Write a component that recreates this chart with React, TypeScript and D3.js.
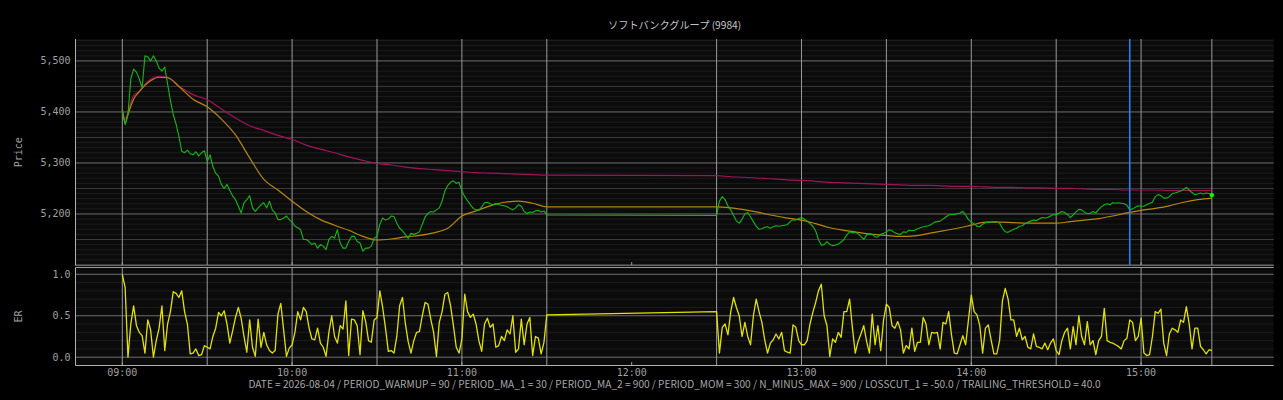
import React from 'react';
import * as d3 from 'd3';

// ---- data (minutes are counted from 09:00) ----
const title = 'ソフトバンクグループ (9984)';
const footer =
  'DATE = 2026-08-04 / PERIOD_WARMUP = 90 / PERIOD_MA_1 = 30 / PERIOD_MA_2 = 900 / PERIOD_MOM = 300 / N_MINUS_MAX = 900 / LOSSCUT_1 = -50.0 / TRAILING_THRESHOLD = 40.0';

const amStart = '09:00';
const pmStart = '12:30';
const markerTime = '14:56';
const hourTicks = ['09:00', '10:00', '11:00', '12:00', '13:00', '14:00', '15:00'];
const sessionLines = [
  '09:00', '09:30', '10:00', '10:30', '11:00', '11:30',
  '12:30', '13:00', '13:30', '14:00', '14:30', '15:00', '15:25',
];
const priceTicks = [5200, 5300, 5400, 5500];
const erTicks = [0, 0.5, 1.0];

// price, one value per minute, 09:00 - 11:30
const priceAM = [
  5405, 5375, 5395, 5465, 5484, 5478, 5465, 5447, 5510, 5508,
  5500, 5510, 5500, 5486, 5480, 5488, 5455, 5422, 5395, 5376,
  5352, 5323, 5320, 5325, 5318, 5316, 5322, 5314, 5320, 5324,
  5303, 5316, 5293, 5280, 5274, 5258, 5250, 5258, 5246, 5235,
  5228, 5215, 5202, 5222, 5228, 5236, 5212, 5205, 5212, 5218,
  5222, 5212, 5225, 5208, 5202, 5189, 5189, 5192, 5196, 5189,
  5184, 5176, 5173, 5169, 5150, 5150, 5146, 5140, 5143, 5133,
  5140, 5137, 5130, 5150, 5156, 5153, 5169, 5143, 5133, 5133,
  5146, 5156, 5156, 5146, 5143, 5127, 5133, 5133, 5137, 5153,
  5156, 5180, 5192, 5188, 5190, 5196, 5195, 5182, 5172, 5167,
  5160, 5152, 5162, 5160, 5162, 5165, 5180, 5194, 5201, 5205,
  5204, 5208, 5212, 5225, 5245, 5256, 5262, 5265, 5260, 5262,
  5245, 5234, 5226, 5218, 5211, 5208, 5207, 5214, 5222, 5223,
  5220, 5218, 5221, 5218, 5217, 5216, 5214, 5211, 5208, 5212,
  5218, 5215, 5205, 5201, 5204, 5203, 5206, 5207, 5204, 5206,
  5198,
];

// price, one value per minute, 12:30 - 15:25
const pricePM = [
  5197, 5225, 5234, 5228, 5216, 5208, 5197, 5186, 5182, 5190,
  5200, 5203, 5194, 5185, 5176, 5170, 5171, 5174, 5175, 5172,
  5175, 5177, 5176, 5177, 5178, 5179, 5185, 5189, 5188, 5191,
  5193, 5190, 5186, 5181, 5176, 5167, 5150, 5139, 5140, 5146,
  5140, 5138, 5139, 5141, 5145, 5150, 5159, 5165, 5163, 5164,
  5161, 5156, 5150, 5159, 5161, 5160, 5155, 5155, 5160, 5162,
  5165, 5169, 5167, 5163, 5161, 5160, 5165, 5164, 5168, 5167,
  5168, 5171, 5173, 5175, 5176, 5177, 5180, 5184, 5185, 5186,
  5190, 5194, 5198, 5199, 5199, 5201, 5202, 5205, 5198, 5189,
  5184, 5181, 5176, 5175, 5180, 5183, 5184, 5184, 5185, 5185,
  5182, 5172, 5165, 5164, 5167, 5170, 5172, 5176, 5177, 5181,
  5184, 5186, 5188, 5187, 5190, 5193, 5192, 5193, 5196, 5199,
  5198, 5202, 5205, 5203, 5199, 5193, 5198, 5204, 5209, 5208,
  5203, 5201, 5201, 5205, 5202, 5209, 5214, 5218, 5220, 5218,
  5222, 5221, 5222, 5221, 5220, 5217, 5208, 5210, 5213, 5216,
  5215, 5215, 5218, 5221, 5223, 5234, 5238, 5236, 5231, 5231,
  5234, 5240, 5241, 5243, 5245, 5248, 5252, 5247, 5242, 5238,
  5239, 5241, 5239, 5241, 5240, 5237,
];

// moving averages, sampled at these minutes
const maMinutes = [
  0, 1, 2, 4, 6, 8, 10, 13, 16, 20, 25, 30, 35, 40, 45, 50, 55, 60, 65, 70,
  75, 80, 85, 90, 95, 100, 105, 110, 115, 120, 125, 130, 135, 140, 145, 150,
  210, 215, 220, 225, 230, 235, 240, 245, 250, 255, 260, 265, 270, 275, 280,
  285, 290, 295, 300, 305, 310, 315, 320, 325, 330, 335, 340, 345, 350, 355,
  360, 365, 370, 375, 380, 385,
];
const ma1 = [
  5405, 5378, 5395, 5425, 5440, 5452, 5461, 5468, 5467, 5450, 5425, 5410, 5386, 5355, 5310, 5268, 5247, 5225, 5205, 5189,
  5178, 5168, 5156, 5149, 5151, 5155, 5158, 5163, 5172, 5196, 5206, 5216, 5223, 5225, 5221, 5214,
  5214, 5212, 5208, 5203, 5197, 5192, 5188, 5181, 5173, 5168, 5164, 5160, 5158, 5156, 5157,
  5162, 5167, 5172, 5178, 5184, 5184, 5183, 5182, 5182, 5182, 5185, 5188, 5191, 5196, 5202,
  5207, 5211, 5216, 5223, 5228, 5231,
];
const ma2 = [
  5405, 5385, 5400, 5432, 5440, 5454, 5464, 5470, 5468, 5451, 5434, 5424, 5406, 5388, 5373, 5364, 5354, 5346, 5335, 5327,
  5320, 5312, 5305, 5299, 5296, 5292, 5289, 5287, 5285, 5283, 5281, 5280, 5279, 5278, 5277, 5276,
  5275, 5273, 5272, 5270, 5269, 5267, 5266, 5264, 5262, 5261, 5260, 5259, 5258, 5257, 5256,
  5256, 5255, 5254, 5254, 5253, 5252, 5252, 5251, 5251, 5250, 5250, 5249, 5248, 5248, 5247,
  5247, 5247, 5246, 5246, 5246, 5246,
];

// efficiency ratio, one value per minute
const erAM = [
  1.0, 0.84, 0.0, 0.40, 0.62, 0.38, 0.30, 0.26, 0.05, 0.45,
  0.33, 0.0, 0.20, 0.35, 0.62, 0.08, 0.40, 0.55, 0.79, 0.77,
  0.72, 0.80, 0.55, 0.40, 0.04, 0.05, 0.10, 0.02, 0.03, 0.14,
  0.12, 0.10, 0.25, 0.35, 0.54, 0.50, 0.56, 0.40, 0.17, 0.32,
  0.48, 0.60, 0.47, 0.25, 0.06, 0.45, 0.12, 0.01, 0.46, 0.12,
  0.30, 0.15, 0.08, 0.05, 0.08, 0.52, 0.65, 0.33, 0.01, 0.11,
  0.15, 0.30, 0.55, 0.45, 0.60, 0.55, 0.35, 0.22, 0.21, 0.35,
  0.17, 0.12, 0.01, 0.30, 0.50, 0.25, 0.17, 0.38, 0.34, 0.68,
  0.02, 0.46, 0.45, 0.38, 0.03, 0.56, 0.43, 0.20, 0.18, 0.45,
  0.48, 0.80, 0.60, 0.35, 0.07, 0.08, 0.05, 0.25, 0.62, 0.72,
  0.41, 0.19, 0.05, 0.20, 0.30, 0.31, 0.50, 0.66, 0.64, 0.46,
  0.30, 0.01, 0.42, 0.55, 0.76, 0.78, 0.62, 0.38, 0.12, 0.05,
  0.22, 0.76, 0.55, 0.48, 0.52, 0.40, 0.20, 0.07, 0.40, 0.47,
  0.36, 0.40, 0.12, 0.14, 0.25, 0.20, 0.33, 0.28, 0.50, 0.06,
  0.10, 0.46, 0.15, 0.40, 0.48, 0.02, 0.25, 0.23, 0.04, 0.18,
  0.51,
];
const erPM = [
  0.55, 0.05, 0.36, 0.40, 0.27, 0.55, 0.72, 0.60, 0.50, 0.25,
  0.42, 0.25, 0.15, 0.50, 0.70, 0.55, 0.42, 0.21, 0.05, 0.17,
  0.21, 0.28, 0.22, 0.30, 0.08, 0.06, 0.05, 0.39, 0.36, 0.20,
  0.15, 0.15, 0.20, 0.40, 0.54, 0.66, 0.80, 0.88, 0.50, 0.38,
  0.01, 0.22, 0.18, 0.30, 0.24, 0.55, 0.55, 0.70, 0.35, 0.05,
  0.19, 0.28, 0.38, 0.19, 0.05, 0.52, 0.15, 0.38, 0.08, 0.45,
  0.64, 0.60, 0.38, 0.35, 0.43, 0.33, 0.05, 0.14, 0.10, 0.35,
  0.07, 0.18, 0.18, 0.48, 0.40, 0.15, 0.30, 0.29, 0.30, 0.10,
  0.42, 0.40, 0.55, 0.27, 0.05, 0.04, 0.15, 0.26, 0.15, 0.45,
  0.75, 0.55, 0.51, 0.38, 0.05, 0.35, 0.39, 0.21, 0.04, 0.04,
  0.20, 0.68, 0.83, 0.70, 0.45, 0.45, 0.25, 0.35, 0.21, 0.25,
  0.12, 0.10, 0.28, 0.13, 0.12, 0.10, 0.17, 0.09, 0.17, 0.22,
  0.08, 0.03, 0.20, 0.30, 0.35, 0.10, 0.37, 0.15, 0.50, 0.25,
  0.15, 0.43, 0.15, 0.20, 0.03, 0.20, 0.25, 0.59, 0.20, 0.18,
  0.17, 0.15, 0.13, 0.10, 0.20, 0.23, 0.45, 0.42, 0.20, 0.25,
  0.47, 0.05, 0.02, 0.03, 0.25, 0.55, 0.53, 0.58, 0.17, 0.02,
  0.28, 0.35, 0.33, 0.30, 0.45, 0.42, 0.61, 0.40, 0.10, 0.35,
  0.35, 0.13, 0.09, 0.04, 0.09, 0.08,
];

// ---- helpers ----
const toMin = (s: string) => {
  const [h, m] = s.split(':').map(Number);
  return (h - 9) * 60 + m;
};
type Pt = [number, number];
const withTime = (vals: number[], start: string): Pt[] =>
  vals.map((v, i) => [toMin(start) + i, v]);

const W = 1283;
const H = 400;
const left = 75.5;
const right = 1273.7;
const pTop = 39;
const pBottom = 265.5;
const eTop = 267.5;
const eBottom = 365.5;

const x = d3.scaleLinear().domain([-16.54, 406.86]).range([left, right]);
const yP = d3.scaleLinear().domain([5099, 5543]).range([pBottom, pTop]);
const yE = d3.scaleLinear().domain([-0.1, 1.1]).range([eBottom, 266]);

const monoFont = '"DejaVu Sans Mono", monospace';
const jpFont = '"Noto Sans CJK JP", "Noto Sans", sans-serif';

export default function App() {
  const pricePts = [...withTime(priceAM, amStart), ...withTime(pricePM, pmStart)];
  const erPts = [...withTime(erAM, amStart), ...withTime(erPM, pmStart)];
  const ma1Pts: Pt[] = maMinutes.map((t, i) => [t, ma1[i]]);
  const ma2Pts: Pt[] = maMinutes.map((t, i) => [t, ma2[i]]);

  const priceLine = d3.line<Pt>().x(d => x(d[0])).y(d => yP(d[1]));
  const maLine = d3.line<Pt>().x(d => x(d[0])).y(d => yP(d[1])).curve(d3.curveMonotoneX);
  const erLine = d3.line<Pt>().x(d => x(d[0])).y(d => yE(d[1]));

  const [py0, py1] = yP.domain();
  const priceGrid = d3.range(Math.ceil(py0 / 10) * 10, py1, 10);
  const erGrid = d3.range(-0.1, 1.1001, 0.1).map(v => Math.round(v * 10) / 10);
  const last = pricePts[pricePts.length - 1];
  const fmt = d3.format(',');

  const gridColor = (v: number) =>
    v % 100 === 0 ? '#6e6e6e' : v % 50 === 0 ? '#3c3c3c' : '#1c1c1c';

  return (
    <div style={{ position: 'absolute', left: 0, top: 0, width: W, height: H, background: '#000' }}>
      <svg width={W} height={H} style={{ display: 'block' }}>
        <defs>
          <clipPath id="clipP">
            <rect x={left} y={pTop} width={right - left} height={pBottom - pTop} />
          </clipPath>
          <clipPath id="clipE">
            <rect x={left} y={eTop} width={right - left} height={eBottom - eTop} />
          </clipPath>
        </defs>
        <rect width={W} height={H} fill="#000" />

        {/* price panel */}
        <rect x={left} y={pTop} width={right - left} height={pBottom - pTop} fill="#0b0b0b" />
        {priceGrid.map(v => (
          <line key={v} x1={left} x2={right} y1={yP(v)} y2={yP(v)} stroke={gridColor(v)} strokeWidth={1} />
        ))}
        {sessionLines.map(s => (
          <line key={s} x1={x(toMin(s))} x2={x(toMin(s))} y1={pTop} y2={pBottom} stroke="#9a9a9a" strokeWidth={1} />
        ))}
        {hourTicks.map(s => (
          <line key={s} x1={x(toMin(s))} x2={x(toMin(s))} y1={pBottom} y2={pBottom - 3.5} stroke="#9a9a9a" />
        ))}
        <g clipPath="url(#clipP)" fill="none" strokeLinejoin="round">
          <path d={maLine(ma2Pts) ?? ''} stroke="#a3125f" strokeWidth={1.2} />
          <path d={maLine(ma1Pts) ?? ''} stroke="#b8860b" strokeWidth={1.2} />
          <path d={priceLine(pricePts) ?? ''} stroke="#14b814" strokeWidth={1.1} />
        </g>
        <line x1={x(toMin(markerTime))} x2={x(toMin(markerTime))} y1={pTop} y2={pBottom} stroke="#1e90ff" strokeWidth={1.4} />
        <circle cx={x(last[0])} cy={yP(last[1])} r={2.2} fill="#00ff00" />
        <line x1={left} x2={left} y1={pTop} y2={pBottom} stroke="#b0b0b0" />
        <line x1={left} x2={right} y1={pBottom} y2={pBottom} stroke="#b0b0b0" />
        {priceTicks.map(v => (
          <text key={v} x={left - 5} y={yP(v)} dy="0.35em" textAnchor="end" fontFamily={monoFont} fontSize={10} fill="#a0a0a0">
            {fmt(v)}
          </text>
        ))}
        <text transform={`translate(18,${(pTop + pBottom) / 2}) rotate(-90)`} textAnchor="middle" dy="0.35em" fontFamily={monoFont} fontSize={10} fill="#a0a0a0">
          Price
        </text>

        {/* ER panel */}
        <rect x={left} y={eTop} width={right - left} height={eBottom - eTop} fill="#0b0b0b" />
        {erGrid.map(v => (
          <line key={v} x1={left} x2={right} y1={yE(v)} y2={yE(v)}
            stroke={erTicks.includes(v) ? '#6e6e6e' : '#1c1c1c'} strokeWidth={1} />
        ))}
        {sessionLines.map(s => (
          <line key={s} x1={x(toMin(s))} x2={x(toMin(s))} y1={eTop} y2={eBottom} stroke="#9a9a9a" strokeWidth={1} />
        ))}
        {hourTicks.map(s => (
          <line key={s} x1={x(toMin(s))} x2={x(toMin(s))} y1={eBottom} y2={eBottom - 3.5} stroke="#9a9a9a" />
        ))}
        <g clipPath="url(#clipE)" fill="none" strokeLinejoin="round">
          <path d={erLine(erPts) ?? ''} stroke="#e2e200" strokeWidth={1.3} />
        </g>
        <line x1={left} x2={right} y1={eTop} y2={eTop} stroke="#9a9a9a" />
        <line x1={left} x2={left} y1={eTop} y2={eBottom} stroke="#b0b0b0" />
        <line x1={left} x2={right} y1={eBottom} y2={eBottom} stroke="#b0b0b0" />
        {erTicks.map(v => (
          <text key={v} x={left - 5} y={yE(v)} dy="0.35em" textAnchor="end" fontFamily={monoFont} fontSize={10} fill="#a0a0a0">
            {v.toFixed(1)}
          </text>
        ))}
        <text transform={`translate(18,${(eTop + eBottom) / 2}) rotate(-90)`} textAnchor="middle" dy="0.35em" fontFamily={monoFont} fontSize={10} fill="#a0a0a0">
          ER
        </text>
        {hourTicks.map(s => (
          <text key={s} x={x(toMin(s))} y={372} dy="0.35em" textAnchor="middle" fontFamily={monoFont} fontSize={10} fill="#a0a0a0">
            {s}
          </text>
        ))}

        <text x={(left + right) / 2} y={25} dy="0.35em" textAnchor="middle" fontFamily={jpFont} fontSize={10.2} fill="#c4c4c4">
          {title}
        </text>
        <text x={(left + right) / 2} y={384} dy="0.35em" textAnchor="middle" fontFamily={jpFont} fontSize={10.1} fill="#a8a8a8">
          {footer}
        </text>
      </svg>
    </div>
  );
}
